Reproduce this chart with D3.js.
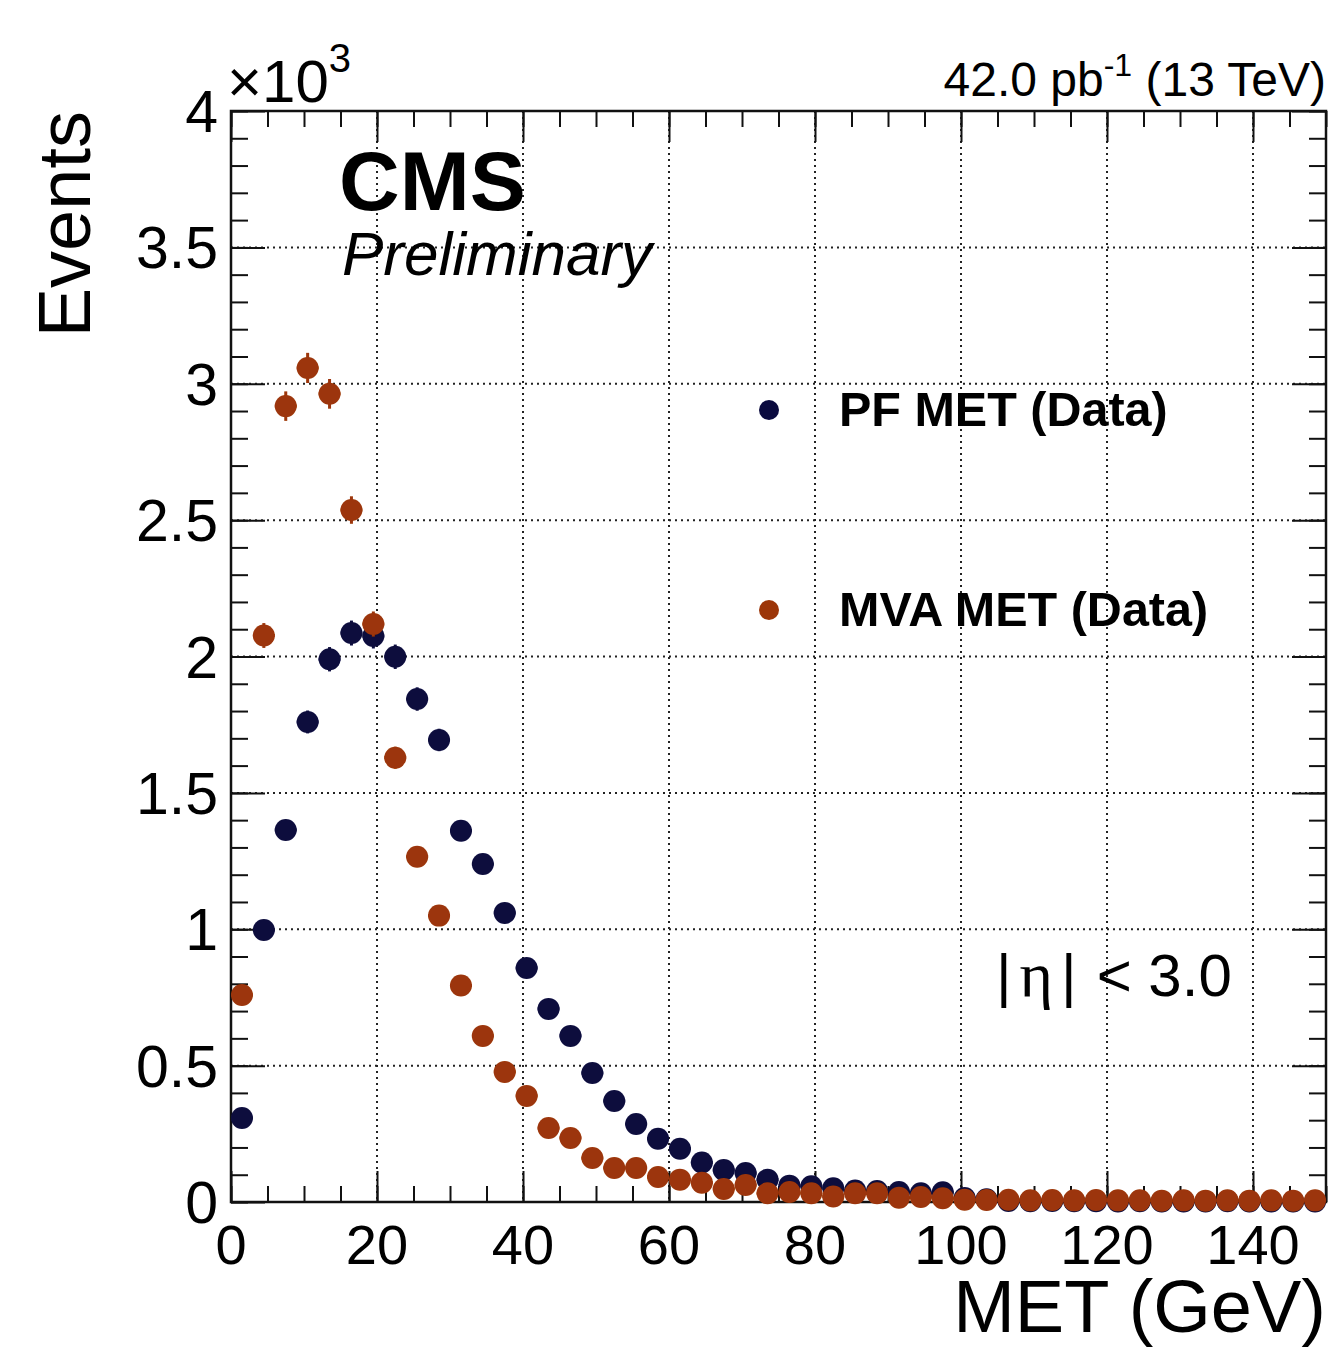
<!DOCTYPE html>
<html>
<head>
<meta charset="utf-8">
<script src="https://cdn.jsdelivr.net/npm/d3@7"></script>
<style>
    body { margin: 0; background: #fff; }
    text { font-family: "Liberation Sans", Arial, Helvetica, sans-serif; fill: #000; }
</style>
</head>
<body>
<script>
// bins of 3 GeV from 0 to 150
var binEdges = d3.range(0, 151, 3);
var pfMet = [308, 997, 1364, 1760, 1990, 2086, 2075, 1999, 1844, 1694,
             1361, 1239, 1060, 858, 708, 609, 473, 370, 286, 232,
             195, 145, 117, 106, 82, 60, 58, 50, 42, 40,
             37, 32, 36, 15, 10, 4, 3, 4, 3, 3,
             2, 3, 2, 2, 2, 3, 2, 2, 2, 2];
var mvaMet = [759, 2077, 2918, 3058, 2963, 2537, 2119, 1629, 1266, 1050,
              794, 609, 477, 389, 271, 235, 161, 125, 125, 92,
              82, 71, 48, 62, 32, 37, 32, 20, 32, 32,
              16, 18, 14, 8, 7, 8, 6, 7, 6, 7,
              6, 6, 5, 6, 5, 6, 5, 6, 5, 6];
var seriesNames = ["PF MET (Data)", "MVA MET (Data)"];
var seriesColors = ["#0a0a3e", "#9c3508"];
var xTicks = [0, 20, 40, 60, 80, 100, 120, 140];
var yTicks = [0, 500, 1000, 1500, 2000, 2500, 3000, 3500, 4000];
var yTickLabels = ["0", "0.5", "1", "1.5", "2", "2.5", "3", "3.5", "4"];

(function(){

    var W = 1334, H = 1348;
    var left = 231, right = 1326, top = 111, bottom = 1202;

    var svg = d3.select("body").append("svg")
        .attr("width", W)
        .attr("height", H);

    // slight softening, the original markers are a bit fuzzy
    svg.append("defs").append("filter")
        .attr("id", "soft")
        .append("feGaussianBlur")
        .attr("stdDeviation", 0.7);

    var x = d3.scaleLinear().domain([0, 150]).range([left, right]);
    var y = d3.scaleLinear().domain([0, 4000]).range([bottom, top]);

    drawGrid();
    drawFrame();
    drawSeries(pfMet, seriesColors[0]);
    drawSeries(mvaMet, seriesColors[1]);
    drawLabels();
    drawLegend();

    function drawGrid(){
        var g = svg.append("g")
            .attr("stroke", "#222")
            .attr("stroke-width", 2)
            .attr("stroke-dasharray", "2,4");
        g.selectAll(".gx")
            .data(xTicks.filter(function(d){ return d > 0; }))
            .enter().append("line")
            .attr("x1", function(d){ return x(d); })
            .attr("x2", function(d){ return x(d); })
            .attr("y1", top)
            .attr("y2", bottom);
        g.selectAll(".gy")
            .data(yTicks.filter(function(d){ return d > 0 && d < 4000; }))
            .enter().append("line")
            .attr("x1", left)
            .attr("x2", right)
            .attr("y1", function(d){ return y(d); })
            .attr("y2", function(d){ return y(d); });
    }

    function drawFrame(){
        // ROOT style ticks pointing inwards on all four sides
        var xMinor = d3.range(0, 151, 5);
        var yMinor = d3.range(0, 4001, 100);

        var bottomAxis = d3.axisBottom(x).tickValues(xMinor)
            .tickSize(-16).tickFormat("");
        var topAxis = d3.axisTop(x).tickValues(xMinor)
            .tickSize(-16).tickFormat("");
        var leftAxis = d3.axisLeft(y).tickValues(yMinor)
            .tickSize(-17).tickFormat("");
        var rightAxis = d3.axisRight(y).tickValues(yMinor)
            .tickSize(-17).tickFormat("");

        svg.append("g").attr("transform", "translate(0," + bottom + ")").call(bottomAxis);
        svg.append("g").attr("transform", "translate(0," + top + ")").call(topAxis);
        svg.append("g").attr("transform", "translate(" + left + ",0)").call(leftAxis);
        svg.append("g").attr("transform", "translate(" + right + ",0)").call(rightAxis);

        // major ticks
        svg.append("g").attr("transform", "translate(0," + bottom + ")")
            .call(d3.axisBottom(x).tickValues(xTicks).tickSize(-31).tickFormat(""));
        svg.append("g").attr("transform", "translate(0," + top + ")")
            .call(d3.axisTop(x).tickValues(xTicks).tickSize(-31).tickFormat(""));
        svg.append("g").attr("transform", "translate(" + left + ",0)")
            .call(d3.axisLeft(y).tickValues(yTicks).tickSize(-34).tickFormat(""));
        svg.append("g").attr("transform", "translate(" + right + ",0)")
            .call(d3.axisRight(y).tickValues(yTicks).tickSize(-34).tickFormat(""));

        svg.selectAll(".domain").remove();
        svg.selectAll(".tick line").attr("stroke", "#111").attr("stroke-width", 2);

        svg.append("rect")
            .attr("x", left).attr("y", top)
            .attr("width", right - left).attr("height", bottom - top)
            .attr("fill", "none")
            .attr("stroke", "#111")
            .attr("stroke-width", 2.5);

        // tick labels
        svg.selectAll(".xl")
            .data(xTicks)
            .enter().append("text")
            .attr("x", function(d){ return x(d); })
            .attr("y", 1264)
            .attr("text-anchor", "middle")
            .attr("font-size", 56)
            .text(function(d){ return d; });

        svg.selectAll(".yl")
            .data(yTicks)
            .enter().append("text")
            .attr("x", 218)
            .attr("y", function(d){ return y(d) + 21; })
            .attr("text-anchor", "end")
            .attr("font-size", 59)
            .text(function(d, i){ return yTickLabels[i]; });
    }

    function drawSeries(values, color){
        var pts = values.map(function(v, i){
            return { lo: binEdges[i], hi: binEdges[i + 1], v: v };
        });
        var g = svg.append("g").attr("filter", "url(#soft)");
        var sel = g.selectAll("g")
            .data(pts)
            .enter().append("g");
        // vertical error bars (sqrt N)
        sel.append("line")
            .attr("x1", function(d){ return x((d.lo + d.hi) / 2); })
            .attr("x2", function(d){ return x((d.lo + d.hi) / 2); })
            .attr("y1", function(d){ return y(d.v + Math.sqrt(d.v)); })
            .attr("y2", function(d){ return y(Math.max(0, d.v - Math.sqrt(d.v))); })
            .attr("stroke", color)
            .attr("stroke-width", 3);
        // horizontal bin width bars
        sel.append("line")
            .attr("x1", function(d){ return x(d.lo); })
            .attr("x2", function(d){ return x(d.hi); })
            .attr("y1", function(d){ return y(d.v); })
            .attr("y2", function(d){ return y(d.v); })
            .attr("stroke", color)
            .attr("stroke-width", 3);
        sel.append("circle")
            .attr("cx", function(d){ return x((d.lo + d.hi) / 2); })
            .attr("cy", function(d){ return y(d.v); })
            .attr("r", 11)
            .attr("fill", color);
    }

    function drawLabels(){
        // y title
        svg.append("text")
            .attr("transform", "translate(90," + top + ") rotate(-90)")
            .attr("text-anchor", "end")
            .attr("font-size", 74)
            .text("Events");

        // x title
        svg.append("text")
            .attr("x", right)
            .attr("y", 1332)
            .attr("text-anchor", "end")
            .attr("font-size", 74)
            .text("MET (GeV)");

        // exponent
        var ex = svg.append("text")
            .attr("x", 227)
            .attr("y", 102)
            .attr("font-size", 60);
        ex.append("tspan").text("\u00d710");
        ex.append("tspan").attr("font-size", 40).attr("dy", -30).text("3");

        // lumi
        var lumi = svg.append("text")
            .attr("x", right)
            .attr("y", 96)
            .attr("text-anchor", "end")
            .attr("font-size", 48);
        lumi.append("tspan").text("42.0 pb");
        lumi.append("tspan").attr("font-size", 32).attr("dy", -20).text("-1");
        lumi.append("tspan").attr("dy", 20).text(" (13 TeV)");

        svg.append("text")
            .attr("x", 339)
            .attr("y", 210)
            .attr("font-size", 84)
            .attr("font-weight", "bold")
            .text("CMS");

        svg.append("text")
            .attr("x", 342)
            .attr("y", 275)
            .attr("font-size", 62)
            .attr("font-style", "italic")
            .text("Preliminary");

        // eta cut
        var eta = svg.append("text")
            .attr("x", 996)
            .attr("y", 996)
            .attr("font-size", 60);
        eta.append("tspan").text("|");
        eta.append("tspan").attr("dx", 8).attr("font-family", "'Liberation Serif', serif").attr("font-size", 64).text("\u03b7");
        eta.append("tspan").attr("dx", 8).text("|");
        eta.append("tspan").attr("dx", 20).text("< 3.0");
    }

    function drawLegend(){
        var ys = [410, 610];
        var lg = svg.append("g");
        lg.selectAll("circle")
            .data(seriesNames)
            .enter().append("circle")
            .attr("cx", 769)
            .attr("cy", function(d, i){ return ys[i]; })
            .attr("r", 10)
            .attr("fill", function(d, i){ return seriesColors[i]; });
        lg.selectAll("text")
            .data(seriesNames)
            .enter().append("text")
            .attr("x", 839)
            .attr("y", function(d, i){ return ys[i] + 16; })
            .attr("font-size", 48.5)
            .attr("font-weight", "bold")
            .text(function(d){ return d; });
    }
}());
</script>
</body>
</html>
